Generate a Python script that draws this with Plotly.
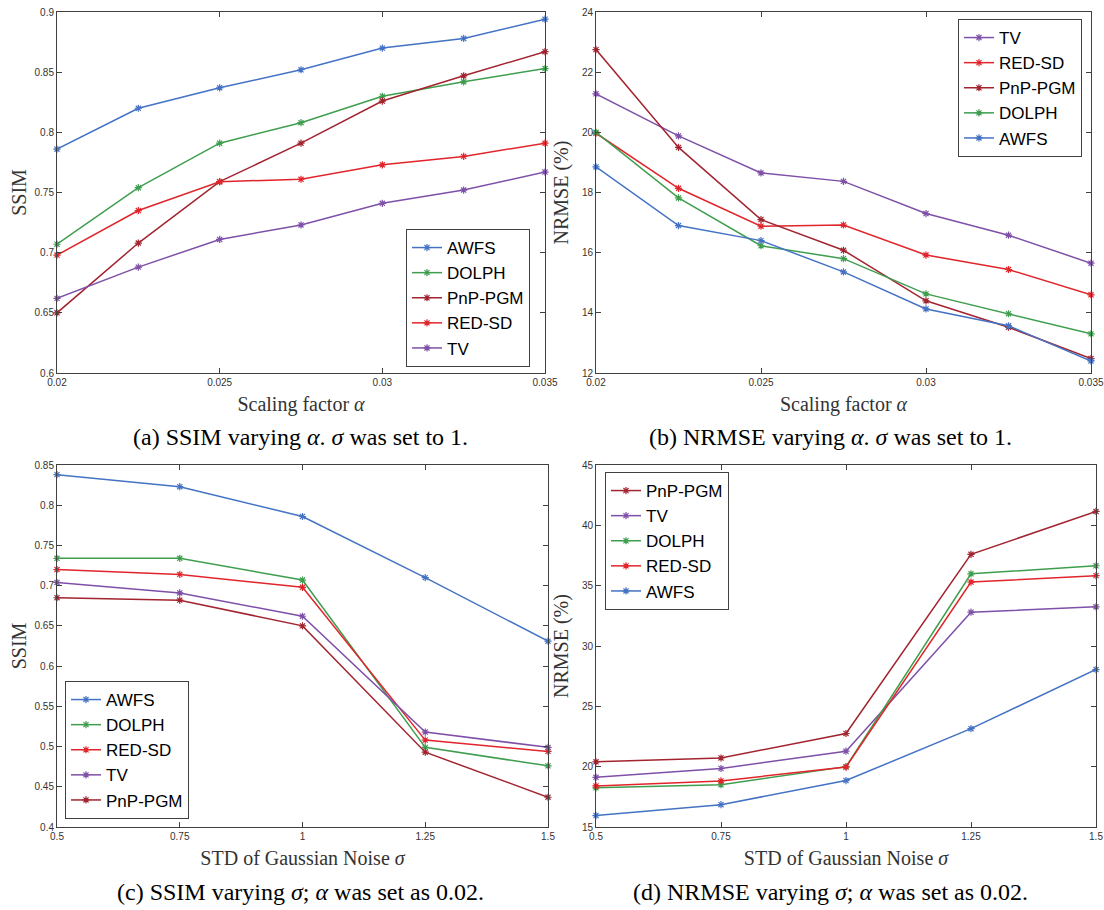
import plotly.graph_objects as go

# ---------------- data ----------------
alpha = [0.02, 0.0225, 0.025, 0.0275, 0.03, 0.0325, 0.035]
sigma = [0.5, 0.75, 1, 1.25, 1.5]

# (a) SSIM vs alpha
ssim_a = {
    "AWFS":    [0.786, 0.820, 0.837, 0.852, 0.870, 0.878, 0.894],
    "DOLPH":   [0.707, 0.754, 0.791, 0.808, 0.830, 0.842, 0.853],
    "PnP-PGM": [0.650, 0.708, 0.759, 0.791, 0.826, 0.847, 0.867],
    "RED-SD":  [0.698, 0.735, 0.759, 0.761, 0.773, 0.780, 0.791],
    "TV":      [0.662, 0.688, 0.711, 0.723, 0.741, 0.752, 0.767],
}
# (b) NRMSE vs alpha
nrmse_b = {
    "TV":      [21.28, 19.88, 18.65, 18.37, 17.30, 16.58, 15.65],
    "RED-SD":  [19.97, 18.14, 16.88, 16.92, 15.92, 15.44, 14.60],
    "PnP-PGM": [22.75, 19.50, 17.10, 16.08, 14.40, 13.52, 12.48],
    "DOLPH":   [20.00, 17.82, 16.23, 15.80, 14.63, 13.97, 13.30],
    "AWFS":    [18.85, 16.90, 16.40, 15.36, 14.13, 13.57, 12.40],
}
# (c) SSIM vs sigma
ssim_c = {
    "AWFS":    [0.838, 0.823, 0.786, 0.710, 0.631],
    "DOLPH":   [0.734, 0.734, 0.707, 0.499, 0.476],
    "RED-SD":  [0.720, 0.714, 0.698, 0.508, 0.494],
    "TV":      [0.704, 0.691, 0.662, 0.518, 0.499],
    "PnP-PGM": [0.685, 0.682, 0.650, 0.493, 0.437],
}
# (d) NRMSE vs sigma
nrmse_d = {
    "PnP-PGM": [20.40, 20.72, 22.75, 37.60, 41.15],
    "TV":      [19.12, 19.85, 21.28, 32.80, 33.25],
    "DOLPH":   [18.25, 18.50, 20.00, 35.98, 36.65],
    "RED-SD":  [18.40, 18.82, 19.97, 35.30, 35.83],
    "AWFS":    [15.95, 16.85, 18.85, 23.15, 28.05],
}

alpha_ticks = [0.02, 0.025, 0.03, 0.035]
alpha_ticktext = ["0.02", "0.025", "0.03", "0.035"]
sigma_ticks = [0.5, 0.75, 1, 1.25, 1.5]
sigma_ticktext = ["0.5", "0.75", "1", "1.25", "1.5"]
ssim_a_ticks = [0.6, 0.65, 0.7, 0.75, 0.8, 0.85, 0.9]
nrmse_b_ticks = [12, 14, 16, 18, 20, 22, 24]
ssim_c_ticks = [0.4, 0.45, 0.5, 0.55, 0.6, 0.65, 0.7, 0.75, 0.8, 0.85]
nrmse_d_ticks = [15, 20, 25, 30, 35, 40, 45]

colors = {
    "AWFS": "#4472C4",
    "DOLPH": "#3E9E4E",
    "PnP-PGM": "#A2242F",
    "RED-SD": "#E1252B",
    "TV": "#7E50A8",
}

captions = [
    "(a) SSIM varying <i>α</i>. <i>σ</i> was set to 1.",
    "(b) NRMSE varying <i>α</i>. <i>σ</i> was set to 1.",
    "(c) SSIM varying <i>σ</i>; <i>α</i> was set as 0.02.",
    "(d) NRMSE varying <i>σ</i>; <i>α</i> was set as 0.02.",
]

# ---------------- figure ----------------
W, H = 1104, 910
fig = go.Figure()

panels = [
    (alpha, ssim_a, "x", "y", "legend"),
    (alpha, nrmse_b, "x2", "y2", "legend2"),
    (sigma, ssim_c, "x3", "y3", "legend3"),
    (sigma, nrmse_d, "x4", "y4", "legend4"),
]

for xs, series, xa, ya, lg in panels:
    for name, ys in series.items():
        fig.add_trace(go.Scatter(
            x=xs, y=ys, name=name, mode="lines+markers",
            line=dict(color=colors[name], width=1.5),
            marker=dict(symbol="asterisk-open", size=6,
                        line=dict(color=colors[name], width=1.2)),
            xaxis=xa, yaxis=ya, legend=lg, cliponaxis=False,
        ))

def px_x(p):
    return p / W

def px_y(p):
    return 1 - p / H

tickfont = dict(family="Liberation Sans, Arial, sans-serif", size=10, color="#333333")
titlefont = dict(family="Liberation Serif, Times New Roman, serif", size=20, color="#333333")
axis_common = dict(
    showline=True, linecolor="#404040", linewidth=1, mirror="ticks",
    ticks="inside", ticklen=5, tickcolor="#404040", tickwidth=1,
    showgrid=False, zeroline=False, tickfont=tickfont, automargin=False,
    ticklabeloverflow="allow",
)

# pixel boxes: left, right, top, bottom
boxes = [
    (57, 545, 12, 373),
    (596, 1091, 12, 373),
    (57, 548, 465, 827),
    (596, 1096, 465, 827),
]
xranges = [[0.02, 0.035], [0.02, 0.035], [0.5, 1.5], [0.5, 1.5]]
yranges = [[0.6, 0.9], [12, 24], [0.4, 0.85], [15, 45]]
xticks = [(alpha_ticks, alpha_ticktext), (alpha_ticks, alpha_ticktext),
          (sigma_ticks, sigma_ticktext), (sigma_ticks, sigma_ticktext)]
yticks = [ssim_a_ticks, nrmse_b_ticks, ssim_c_ticks, nrmse_d_ticks]
xtitles = ["Scaling factor <i>α</i>", "Scaling factor <i>α</i>",
           "STD of Gaussian Noise <i>σ</i>", "STD of Gaussian Noise <i>σ</i>"]
ytitles = ["SSIM", "NRMSE (%)", "SSIM", "NRMSE (%)"]
ystandoff = [2, 7, 2, 7]

layout = dict(
    width=W, height=H, margin=dict(l=0, r=0, t=0, b=0, autoexpand=False),
    paper_bgcolor="white", plot_bgcolor="white",
    showlegend=True,
)

for i in range(4):
    l, r, t, b = boxes[i]
    sx = "" if i == 0 else str(i + 1)
    xa = dict(axis_common)
    xa.update(domain=[px_x(l), px_x(r)], range=xranges[i],
              tickvals=xticks[i][0], ticktext=xticks[i][1],
              anchor="y" + sx,
              title=dict(text=xtitles[i], font=titlefont, standoff=9))
    ya = dict(axis_common)
    ya.update(domain=[px_y(b), px_y(t)], range=yranges[i],
              tickvals=yticks[i], anchor="x" + sx,
              title=dict(text=ytitles[i], font=titlefont, standoff=ystandoff[i]))
    layout["xaxis" + sx] = xa
    layout["yaxis" + sx] = ya

legend_common = dict(
    bgcolor="white", bordercolor="#404040", borderwidth=1,
    font=dict(family="Liberation Sans, Arial, sans-serif", size=17, color="black"),
    itemwidth=30, tracegroupgap=0, xanchor="left",
)
legend_pos = {
    "legend": (406, 367, "bottom"),
    "legend2": (958, 19, "top"),
    "legend3": (65, 819, "bottom"),
    "legend4": (605, 472, "top"),
}
for k, (lx, ly, ya) in legend_pos.items():
    d = dict(legend_common)
    d.update(x=px_x(lx), y=px_y(ly), yanchor=ya)
    layout[k] = d

fig.update_layout(**layout)

cap_font = dict(family="Liberation Serif, Times New Roman, serif", size=24, color="black")
cap_pos = [(300, 437), (830, 437), (300, 892), (830, 892)]
for text, (cx, cy) in zip(captions, cap_pos):
    fig.add_annotation(text=text, x=px_x(cx), y=px_y(cy), xref="paper", yref="paper",
                       showarrow=False, font=cap_font, xanchor="center", yanchor="middle")

# remove the default 8px page margin so the figure fills the window exactly
fig.write_html("out.html", config={"displayModeBar": False},
               post_script="document.body.style.margin='0px';")
